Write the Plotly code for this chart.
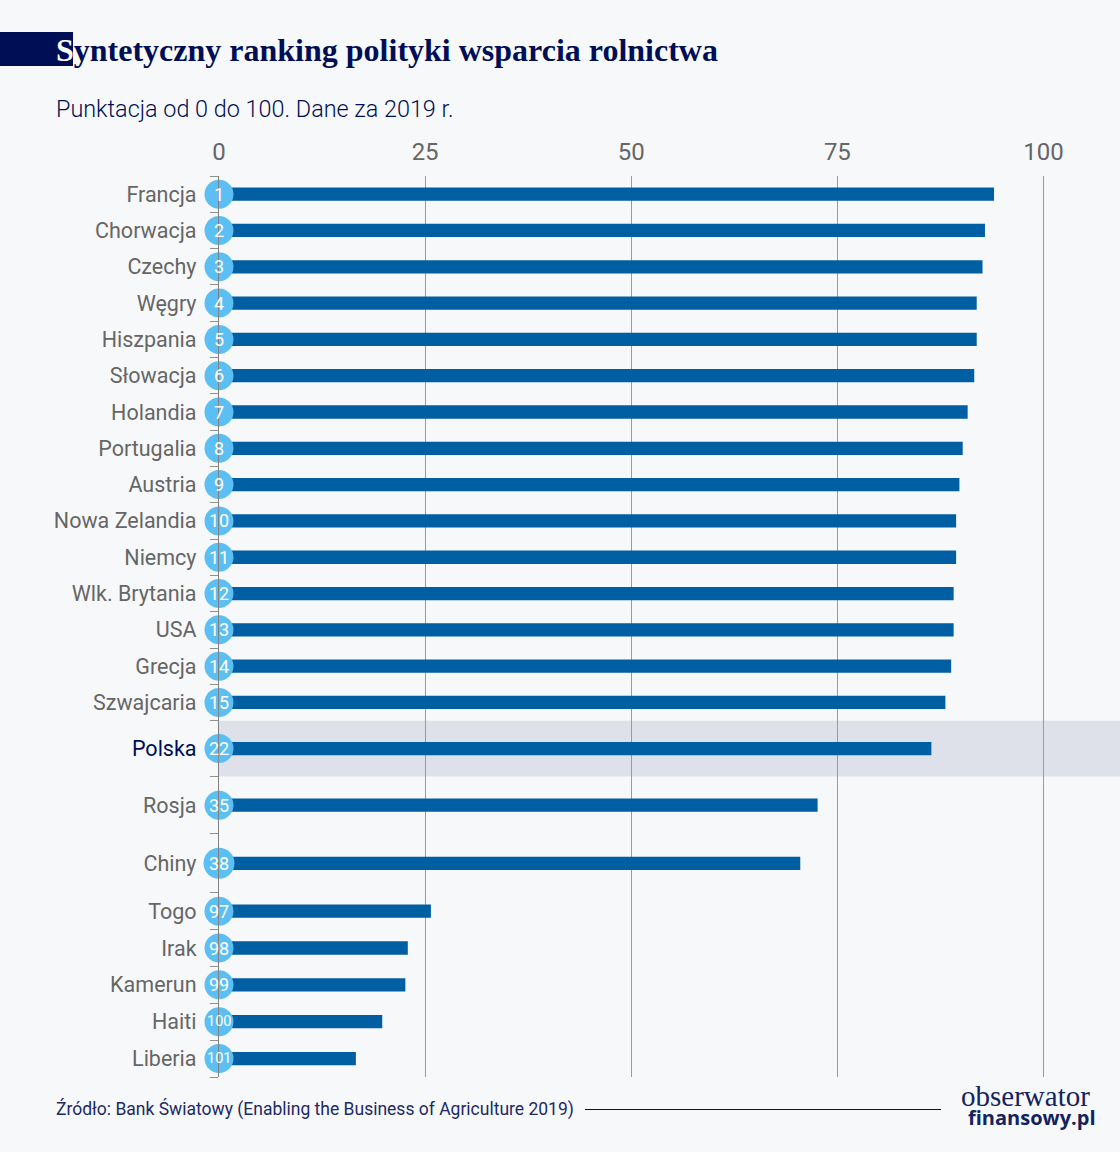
import plotly.graph_objects as go

countries = ["Francja","Chorwacja","Czechy","Węgry","Hiszpania","Słowacja","Holandia","Portugalia","Austria",
             "Nowa Zelandia","Niemcy","Wlk. Brytania","USA","Grecja","Szwajcaria","Polska","Rosja","Chiny",
             "Togo","Irak","Kamerun","Haiti","Liberia"]
scores = [94.0,92.9,92.6,91.9,91.9,91.6,90.8,90.2,89.8,89.4,89.4,89.1,89.1,88.8,88.1,86.4,72.6,70.5,25.7,22.9,22.6,19.8,16.6]
ranks = [1,2,3,4,5,6,7,8,9,10,11,12,13,14,15,22,35,38,97,98,99,100,101]
row_weights = [1]*15 + [1.54,1.58,1.62] + [1.015]*5
x_ticks = [0,25,50,75,100]

W, H = 1120, 1152
L, T, B = 219, 176, 75
PW, PH = W-L, H-T-B
PX_PER_UNIT = 8.245
NAVY = "#000f55"; GREY = "#666666"; BAR = "#005ea3"; DOT = "#5bbff4"; BG = "#f7f8fa"
SANS = "Roboto"

def px(x): return (x-L)/PW
def py(y): return 1-(y-T)/PH

edges = [0]
for w in row_weights:
    edges.append(edges[-1]+w)
centers = [(a+b)/2 for a,b in zip(edges[:-1],edges[1:])]
ticktext = [f'<span style="color:{NAVY}">{c}</span>' if c=="Polska" else c for c in countries]
pol = countries.index("Polska")

fig = go.Figure()
fig.add_bar(x=scores, y=centers, orientation="h", width=0.366, marker=dict(color=BAR, line_width=0), hoverinfo="skip")
fig.add_scatter(x=[0]*len(ranks), y=centers, mode="markers",
    marker=dict(size=[31 if r==38 else 29 for r in ranks], color=DOT, line_width=0, opacity=1),
    cliponaxis=False, hoverinfo="skip")

rank_notes = [dict(text=str(r), x=0, y=c, xref="x", yref="y", showarrow=False, xanchor="center", yanchor="middle",
                   font=dict(family=SANS, color="white", size=14.5 if r>=100 else 18))
              for r, c in zip(ranks, centers)]

fig.update_layout(
    width=W, height=H, autosize=False, showlegend=False,
    paper_bgcolor=BG, plot_bgcolor=BG,
    margin=dict(l=L, r=0, t=T, b=B, pad=0),
    xaxis=dict(range=[0,PW/PX_PER_UNIT], side="top", tickmode="array", tickvals=x_ticks,
               showgrid=True, gridcolor="#9a9a9a", gridwidth=1.3, zeroline=False, showline=False, ticks="",
               ticklabelstandoff=10, tickfont=dict(family=SANS, size=24, color=GREY)),
    yaxis=dict(range=[edges[-1],0], tickmode="array", tickvals=centers, ticktext=ticktext,
               showgrid=False, zeroline=False, showline=True, linecolor="#808080", linewidth=1.3,
               ticks="", ticklabelstandoff=17, tickfont=dict(family=SANS, size=21.5, color=GREY),
               minor=dict(tickmode="array", tickvals=edges, ticks="outside", ticklen=8, tickcolor="#909090", tickwidth=1.3)),
    shapes=[
        dict(type="rect", xref="x", yref="y", x0=0, x1=PW/PX_PER_UNIT, y0=edges[pol], y1=edges[pol+1],
             fillcolor="#dfe1ea", line_width=0, layer="below"),
        dict(type="rect", xref="paper", yref="paper", x0=px(0), x1=px(73), y0=py(32), y1=py(66),
             fillcolor=NAVY, line_width=0, layer="above"),
        dict(type="line", xref="paper", yref="paper", x0=px(585), x1=px(941), y0=py(1109.5), y1=py(1109.5),
             line=dict(color=NAVY, width=1)),
    ],
    annotations=rank_notes + [
        dict(text='<b><span style="color:white">S</span>yntetyczny ranking polityki wsparcia rolnictwa</b>',
             xref="paper", yref="paper", x=px(54), y=py(50), xanchor="left", yanchor="middle", showarrow=False,
             font=dict(family="Liberation Serif", size=32, color=NAVY)),
        dict(text="Punktacja od 0 do 100. Dane za 2019 r.", xref="paper", yref="paper", x=px(54), y=py(109),
             xanchor="left", yanchor="middle", showarrow=False,
             font=dict(family=SANS, size=23.4, color=NAVY, weight=300)),
        dict(text="Źródło: Bank Światowy (Enabling the Business of Agriculture 2019)", xref="paper", yref="paper",
             x=px(54), y=py(1109), xanchor="left", yanchor="middle", showarrow=False,
             font=dict(family=SANS, size=17.5, color="#1c2a66")),
        dict(text="obserwator", xref="paper", yref="paper", x=px(1092), y=py(1096), xanchor="right", yanchor="middle",
             showarrow=False, font=dict(family="Liberation Serif", size=29, color="#14235f")),
        dict(text="<b>finansowy.pl</b>", xref="paper", yref="paper", x=px(1098), y=py(1117), xanchor="right", yanchor="middle",
             showarrow=False, font=dict(family="Open Sans", size=20, color="#14235f")),
    ],
)
fig.write_html("out.html", config=dict(displayModeBar=False),
               post_script="document.body.style.margin='0';document.documentElement.style.background='%s';" % BG)
